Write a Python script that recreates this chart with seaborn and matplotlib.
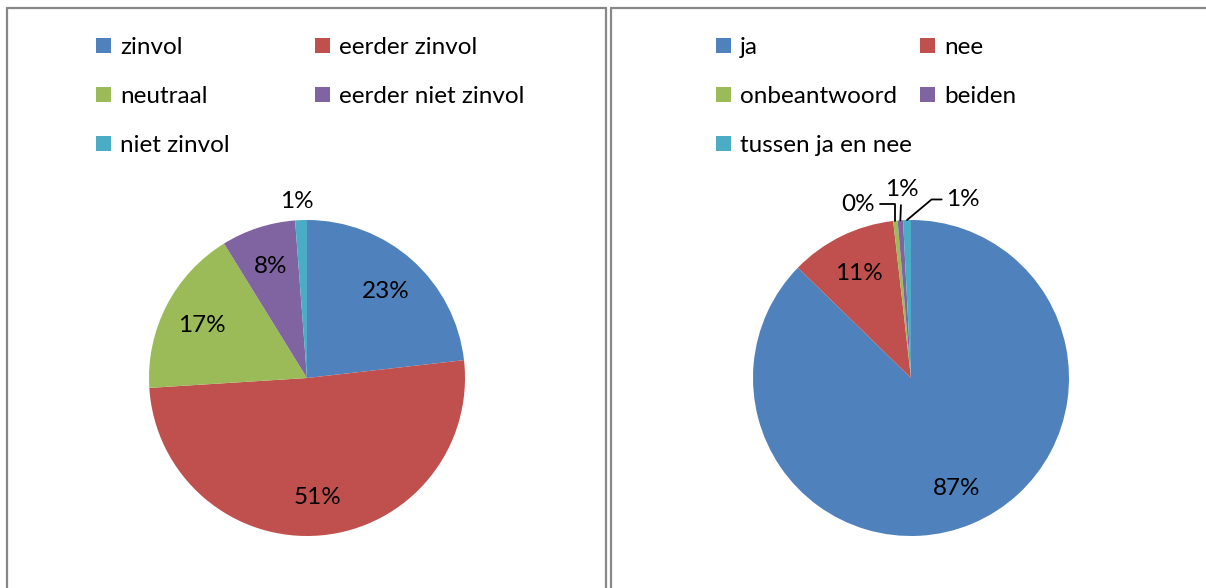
import matplotlib
matplotlib.use("Agg")
import matplotlib.pyplot as plt
import numpy as np
import seaborn as sns
from matplotlib.lines import Line2D

# data (percent shares)
left_labels = ["zinvol", "eerder zinvol", "neutraal", "eerder niet zinvol", "niet zinvol"]
left_values = [23.2, 50.8, 17.2, 7.6, 1.2]

right_labels = ["ja", "nee", "onbeantwoord", "beiden", "tussen ja en nee"]
right_values = [87.3, 10.9, 0.45, 0.55, 0.8]

excel_colors = ["#4F81BD", "#C0504D", "#9BBB59", "#8064A2", "#4BACC6"]

sns.set_theme(style="white")
plt.rcParams["font.family"] = ["Lato", "DejaVu Sans"]
plt.rcParams["text.color"] = "black"

W, H = 1206, 588
FS = 17.5
fig = plt.figure(figsize=(W / 100, H / 100), dpi=100)
fig.patch.set_facecolor("white")

R_PX = 158
LIM = 1.4


def add_pie_axes(cx, cy):
    half = R_PX * LIM
    ax = fig.add_axes([(cx - half) / W, (H - cy - half) / H, 2 * half / W, 2 * half / H])
    return ax


def draw_pie(ax, values, small_layout):
    palette = sns.color_palette(excel_colors)
    wedges, _ = ax.pie(values, colors=palette, startangle=90, counterclock=False,
                       wedgeprops=dict(linewidth=0))
    ax.set_xlim(-LIM, LIM)
    ax.set_ylim(-LIM, LIM)
    ax.set_aspect("equal")
    ax.axis("off")
    total = sum(values)
    for i, w in enumerate(wedges):
        pct = 100 * values[i] / total
        mid = np.deg2rad((w.theta1 + w.theta2) / 2)
        txt = f"{pct:.0f}%"
        if i in small_layout:
            tx, ty, style = small_layout[i]
            if style is None:
                ax.text(tx, ty, txt, ha="center", va="center", fontsize=FS)
            else:
                ax.annotate(txt, xy=(np.cos(mid), np.sin(mid)), xytext=(tx, ty),
                            ha="center", va="center", fontsize=FS,
                            arrowprops=dict(arrowstyle="-", color="black", lw=1.3,
                                            shrinkA=1, shrinkB=0, connectionstyle=style))
        else:
            ax.text(0.75 * np.cos(mid), 0.75 * np.sin(mid) - 0.01, txt,
                    ha="center", va="center", fontsize=FS)
    return wedges


def add_legend(wedges, names, idx, x_px, y_px):
    leg = fig.legend([wedges[i] for i in idx], [names[i] for i in idx],
                     loc="upper left", bbox_to_anchor=(x_px / W, 1 - y_px / H),
                     frameon=False, fontsize=FS, borderpad=0, borderaxespad=0,
                     handlelength=0.6, handleheight=0.6, handletextpad=0.4,
                     labelspacing=1.15)
    return leg


# left panel
ax_l = add_pie_axes(307, 378)
w_l = draw_pie(ax_l, left_values, {4: (-0.065, 1.12, None)})
add_legend(w_l, left_labels, [0, 2, 4], 96, 37)
add_legend(w_l, left_labels, [1, 3], 315, 37)

# right panel
ax_r = add_pie_axes(911, 378)
right_small = {
    2: (-0.335, 1.10, "angle,angleA=0,angleB=90,rad=0"),
    3: (-0.06, 1.19, "arc3"),
    4: (0.33, 1.13, "angle,angleA=180,angleB=40,rad=0"),
}
w_r = draw_pie(ax_r, right_values, right_small)
add_legend(w_r, right_labels, [0, 2, 4], 716, 37)
add_legend(w_r, right_labels, [1, 3], 920, 37)

# chart area borders
border = dict(color="#888888", lw=1.6, transform=fig.transFigure)
for x0, x1 in [(7, 606), (611, 1210)]:
    fig.add_artist(Line2D([x0 / W, x1 / W], [1 - 7.5 / H, 1 - 7.5 / H], **border))
    fig.add_artist(Line2D([x0 / W, x0 / W], [1 - 7.5 / H, -0.01], **border))
    fig.add_artist(Line2D([x1 / W, x1 / W], [1 - 7.5 / H, -0.01], **border))

fig.savefig("out.png", dpi=100)
